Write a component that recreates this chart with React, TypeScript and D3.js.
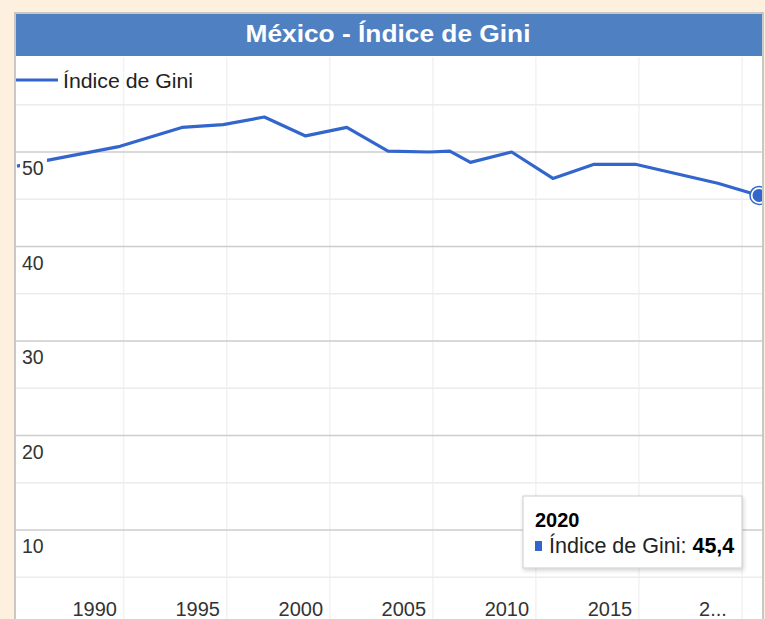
import React from "react";
import * as d3 from "d3";

const years = [1984, 1989, 1992, 1994, 1996, 1998, 2000, 2002, 2004, 2005, 2006, 2008, 2010, 2012, 2014, 2016, 2018, 2020];
const gini = [48.5, 50.6, 52.6, 52.9, 53.7, 51.7, 52.6, 50.1, 50.0, 50.1, 48.9, 50.0, 47.2, 48.7, 48.7, 47.7, 46.7, 45.4];
const yMajor = [10, 20, 30, 40, 50];
const yMinor = [5, 15, 25, 35, 45, 55];
const xTickYears = [1990, 1995, 2000, 2005, 2010, 2015, 2020];
const xTickLabels = ["1990", "1995", "2000", "2005", "2010", "2015", "2..."];
const title = "México - Índice de Gini";
const seriesName = "Índice de Gini";
const focusYear = "2020";
const focusValue = "45,4";

const W = 765, H = 619;
const L = 15, T = 13, R = 763;
const FONT = "'Liberation Sans', Arial, sans-serif";
const BLUE = "#3366cc";

export default function App() {
  const x = d3.scaleLinear().domain([1984, 2020]).range([17, 759]);
  const y = d3.scaleLinear().domain([0, 50]).range([624.5, 152]);
  const pts = years.map((yr, i) => [yr, gini[i]] as [number, number]);
  const line = d3.line<[number, number]>().x(d => x(d[0])).y(d => y(d[1]));
  const last = pts[pts.length - 1];
  const gridOff = 17, labelOff = 46;

  return (
    <svg width={W} height={H} style={{ position: "fixed", left: 0, top: 0 }} fontFamily={FONT}>
      <defs>
        <clipPath id="plot"><rect x={L + 1} y={56} width={R - L - 2} height={H - 56} /></clipPath>
        <filter id="sh" x="-10%" y="-10%" width="130%" height="140%">
          <feDropShadow dx="1" dy="2" stdDeviation="2" floodColor="#000" floodOpacity="0.18" />
        </filter>
      </defs>
      <rect x={0} y={0} width={W} height={H} fill="#fdf0de" />
      <rect x={L} y={T} width={R - L} height={H} fill="#fff" stroke="#b8b8b8" strokeWidth={1.5} />
      {xTickYears.map(v => (
        <line key={"vx" + v} x1={x(v) - gridOff} x2={x(v) - gridOff} y1={57} y2={H} stroke="#f2f2f2" strokeWidth={1.5} />
      ))}
      {yMinor.map(v => (
        <line key={"mn" + v} x1={L + 1} x2={R - 1} y1={y(v)} y2={y(v)} stroke="#ececec" strokeWidth={1.5} />
      ))}
      {yMajor.map(v => (
        <line key={"mj" + v} x1={L + 1} x2={R - 1} y1={y(v)} y2={y(v)} stroke="#cccccc" strokeWidth={1.5} />
      ))}
      <rect x={L + 1} y={T + 1} width={R - L - 2} height={42} fill="#4f81c2" />
      <text x={388} y={42} textAnchor="middle" fill="#fff" fontWeight="bold" fontSize={24} textLength={285} lengthAdjust="spacingAndGlyphs">{title}</text>
      <line x1={L + 1} x2={58} y1={80} y2={80} stroke={BLUE} strokeWidth={3} />
      <text x={63} y={88} fontSize={21} fill="#222" textLength={130} lengthAdjust="spacingAndGlyphs">{seriesName}</text>
      <g clipPath="url(#plot)">
        <path d={line(pts) || ""} fill="none" stroke={BLUE} strokeWidth={3.2} strokeLinejoin="round" />
        <circle cx={x(last[0])} cy={y(last[1])} r={9} fill="#fff" stroke={BLUE} strokeWidth={1.5} />
        <circle cx={x(last[0])} cy={y(last[1])} r={6.5} fill={BLUE} />
      </g>
      {yMajor.map(v => (
        <g key={"yl" + v}>
          {v === 50 && <rect x={20} y={y(v) + 6} width={27} height={20} fill="#fff" />}
          <text x={22} y={y(v) + 23} fontSize={19.5} fill="#333">{v}</text>
        </g>
      ))}
      {xTickYears.map((v, i) => (
        <text key={"xl" + v} x={x(v) - labelOff} y={616} textAnchor="middle" fontSize={20} fill="#333">{xTickLabels[i]}</text>
      ))}
      <g>
        <rect x={523} y={496} width={219} height={72} fill="#fff" stroke="#cccccc" strokeWidth={1} filter="url(#sh)" />
        <text x={535} y={527} fontSize={20} fontWeight="bold" fill="#000">{focusYear}</text>
        <rect x={535} y={541} width={7} height={10} fill={BLUE} />
        <text x={549} y={553} fontSize={21.5} fill="#222">
          {seriesName + ": "}<tspan fontWeight="bold" fill="#000">{focusValue}</tspan>
        </text>
      </g>
    </svg>
  );
}
